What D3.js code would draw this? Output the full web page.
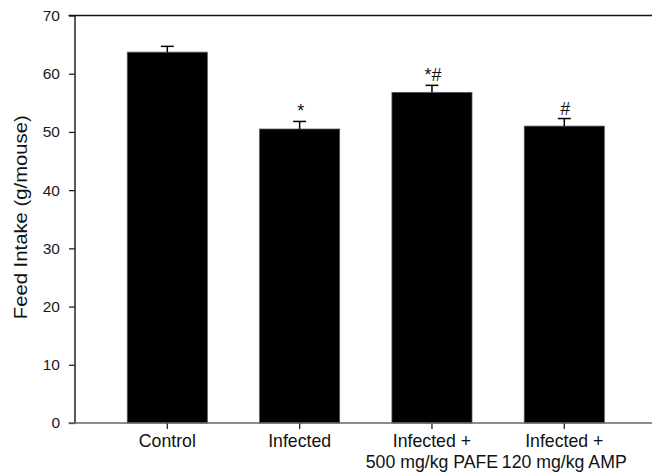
<!DOCTYPE html>
<html>
<head>
<meta charset="utf-8">
<script src="https://cdn.jsdelivr.net/npm/d3@7/dist/d3.min.js"></script>
<style>
  html, body { margin: 0; padding: 0; background: #fff; }
  svg { display: block; font-family: "Liberation Sans", Arial, sans-serif; }
</style>
</head>
<body>
<svg id="chart" width="652" height="475"></svg>
<script>
const categories = ["Control", "Infected", "Infected +|500 mg/kg PAFE", "Infected +|120 mg/kg AMP"];
const means = [63.7, 50.5, 56.8, 51.0];
const sems = [1.0, 1.3, 1.2, 1.3];
const marks = ["", "*", "*#", "#"];
const yTicks = [0, 10, 20, 30, 40, 50, 60, 70];

const svg = d3.select("#chart");
const W = 652, H = 475;
const plotLeft = 75, plotTop = 15.5, plotBottom = 423;

const y = d3.scaleLinear().domain([0, 70]).range([plotBottom, plotTop]);
const x = d3.scaleBand().domain(categories).range([101.15, 630.45])
  .paddingInner(0.395).paddingOuter(0.1975);

// bars
svg.append("g").selectAll("rect").data(categories).join("rect")
  .attr("x", d => x(d))
  .attr("width", x.bandwidth())
  .attr("y", (d, i) => y(means[i]))
  .attr("height", (d, i) => y(0) - y(means[i]))
  .attr("fill", "#000")
  .attr("stroke", "#555")
  .attr("stroke-width", 0.8);

// error bars (upper only)
const eb = svg.append("g").attr("stroke", "#000").attr("stroke-width", 1.5);
categories.forEach((c, i) => {
  const cx = x(c) + x.bandwidth() / 2;
  eb.append("line").attr("x1", cx).attr("x2", cx)
    .attr("y1", y(means[i])).attr("y2", y(means[i] + sems[i]));
  eb.append("line").attr("x1", cx - 6.5).attr("x2", cx + 6.5)
    .attr("y1", y(means[i] + sems[i])).attr("y2", y(means[i] + sems[i]));
});

// significance marks
svg.append("g").selectAll("text").data(categories).join("text")
  .attr("x", d => x(d) + x.bandwidth() / 2 + 1)
  .attr("y", (d, i) => y(means[i] + sems[i]) - 4)
  .attr("text-anchor", "middle")
  .attr("font-size", 18)
  .attr("fill", "#111")
  .text((d, i) => marks[i]);

// y axis
const yAxis = d3.axisLeft(y).tickValues(yTicks).tickSize(6).tickSizeOuter(0).tickPadding(9);
const gy = svg.append("g").attr("transform", `translate(${plotLeft},0)`).call(yAxis);
gy.select(".domain").remove();
gy.selectAll(".tick line").attr("stroke", "#222").attr("stroke-width", 1.3);
gy.selectAll(".tick text").attr("font-size", 15.5).attr("fill", "#1a1a1a")
  .attr("font-family", "'Liberation Sans', Arial, sans-serif");

// frame lines
svg.append("line").attr("x1", plotLeft).attr("x2", plotLeft).attr("y1", plotTop).attr("y2", plotBottom)
  .attr("stroke", "#222").attr("stroke-width", 1.5);
svg.append("line").attr("x1", 68.5).attr("x2", W).attr("y1", plotTop).attr("y2", plotTop)
  .attr("stroke", "#111").attr("stroke-width", 1.5);

// x axis
const xAxis = d3.axisBottom(x).tickSize(6).tickSizeOuter(0).tickPadding(6).tickFormat("");
const gx = svg.append("g").attr("transform", `translate(0,${plotBottom})`).call(xAxis);
gx.select(".domain").remove();
gx.selectAll(".tick line").attr("stroke", "#222").attr("stroke-width", 1.3);
svg.append("line").attr("x1", 68.5).attr("x2", W).attr("y1", plotBottom).attr("y2", plotBottom)
  .attr("stroke", "#666").attr("stroke-width", 1.6);

// category labels
const lab = svg.append("g").attr("font-size", 17.7).attr("fill", "#111").attr("text-anchor", "middle");
categories.forEach(c => {
  const lines = c.split("|");
  const cx = x(c) + x.bandwidth() / 2;
  const t = lab.append("text").attr("x", cx).attr("y", 447);
  lines.forEach((l, j) => {
    t.append("tspan").attr("x", cx).attr("dy", j === 0 ? 0 : 21).text(l);
  });
});

// y label
svg.append("text")
  .attr("transform", `translate(27,${(plotTop + plotBottom) / 2 - 2}) rotate(-90)`)
  .attr("text-anchor", "middle")
  .attr("font-size", 17.5)
  .attr("fill", "#111")
  .attr("textLength", 204)
  .attr("lengthAdjust", "spacingAndGlyphs")
  .text("Feed Intake (g/mouse)");
</script>
</body>
</html>
